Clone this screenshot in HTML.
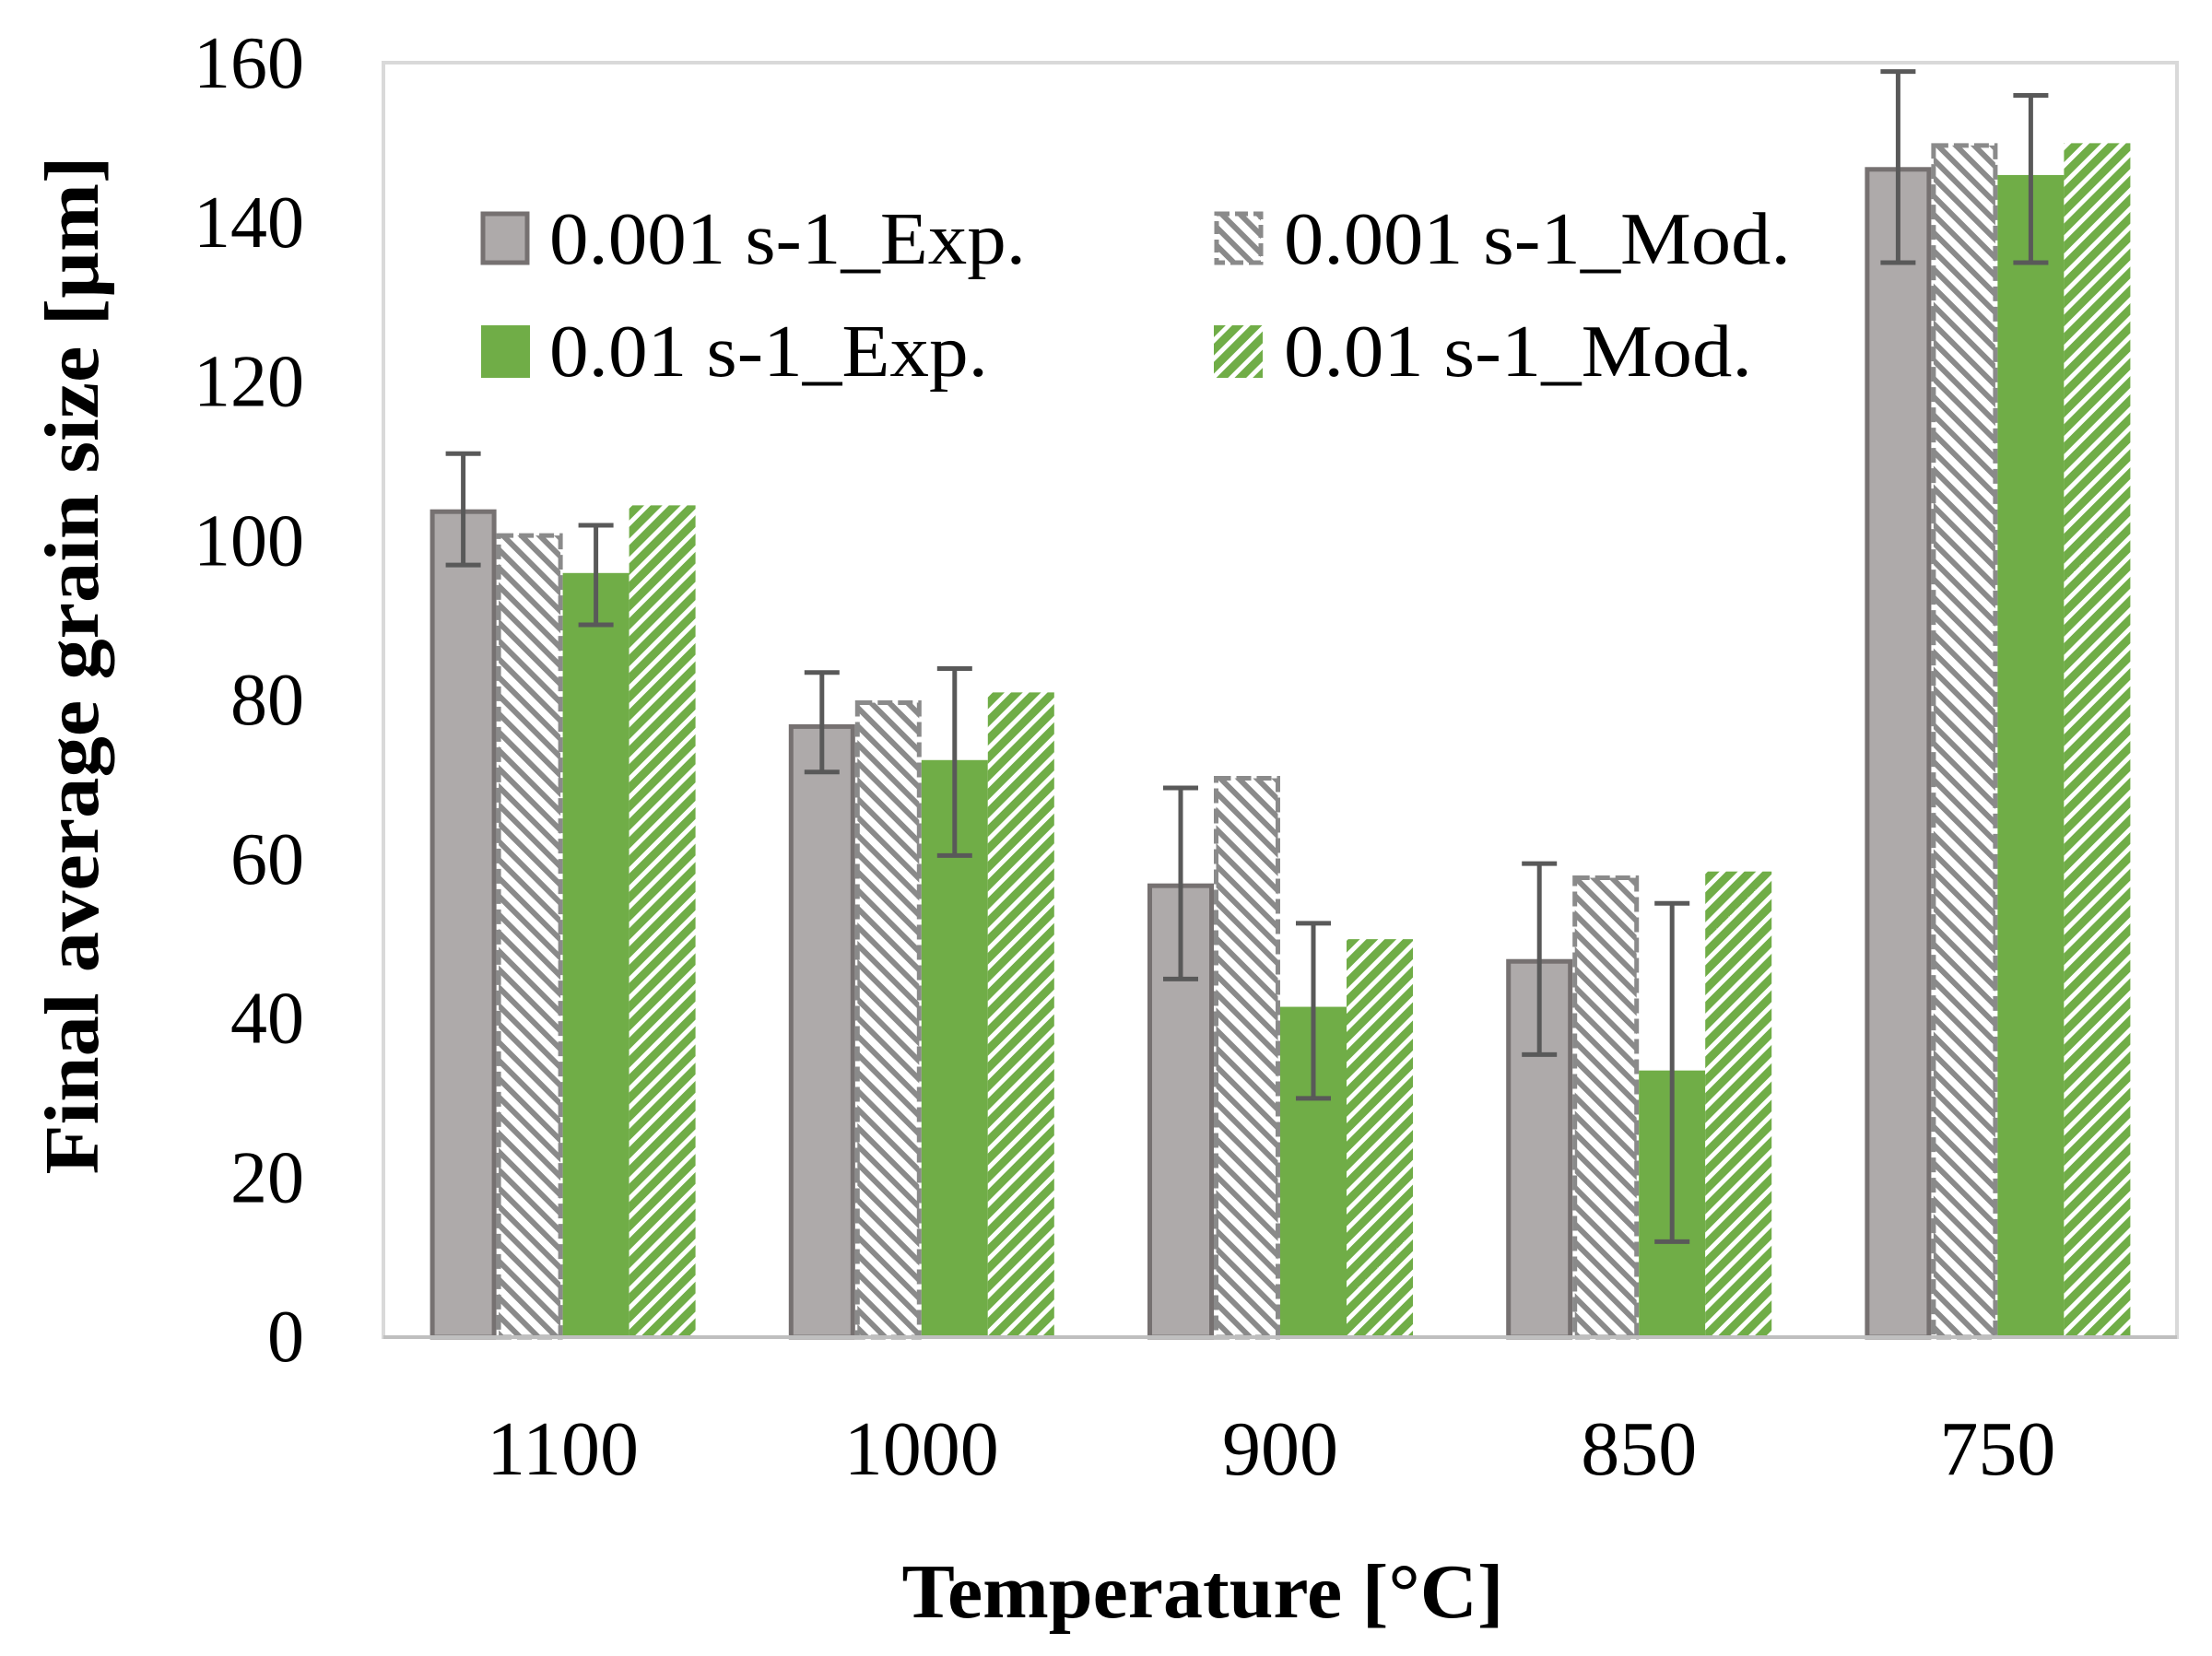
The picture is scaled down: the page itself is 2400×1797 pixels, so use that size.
<!DOCTYPE html>
<html><head><meta charset="utf-8"><style>
html,body{margin:0;padding:0;background:#fff;}
svg{display:block;font-family:"Liberation Serif",serif;}
</style></head><body>
<svg id="chart" width="2400" height="1797" viewBox="0 0 2400 1797">
<defs>
<pattern id="hatchGray" patternUnits="userSpaceOnUse" width="14" height="14" patternTransform="rotate(-45)">
<rect width="14" height="14" fill="#fff"/><rect width="6" height="14" fill="#8a8a8a"/>
</pattern>
<pattern id="hatchGreen" patternUnits="userSpaceOnUse" width="14" height="14" patternTransform="rotate(45)">
<rect width="14" height="14" fill="#70AD47"/><rect width="5" height="14" fill="#fff"/>
</pattern>
</defs>
<rect x="416" y="68" width="1946" height="1383" fill="none" stroke="#d9d9d9" stroke-width="4"/>
<g id="yticks"></g><g id="bars"></g><g id="xlabels"></g>
<text x="1305" y="1755" text-anchor="middle" font-size="84" font-weight="bold" textLength="653" lengthAdjust="spacingAndGlyphs">Temperature [°C]</text>
<text transform="translate(106,722) rotate(-90)" text-anchor="middle" font-size="84" font-weight="bold" textLength="1105" lengthAdjust="spacingAndGlyphs">Final average grain size [µm]</text>
<g>
<rect x="524" y="232" width="48" height="53" fill="#AEAAAA" stroke="#767171" stroke-width="5"/>
<text x="596" y="286" font-size="80" textLength="517" lengthAdjust="spacingAndGlyphs">0.001 s-1_Exp.</text>
<rect x="522" y="353" width="53" height="57" fill="#70AD47"/>
<text x="596" y="408" font-size="80" textLength="476" lengthAdjust="spacingAndGlyphs">0.01 s-1_Exp.</text>
<rect x="1320" y="232" width="48" height="53" fill="url(#hatchGray)" stroke="#8a8a8a" stroke-width="5" stroke-dasharray="14 6"/>
<text x="1393" y="286" font-size="80" textLength="550" lengthAdjust="spacingAndGlyphs">0.001 s-1_Mod.</text>
<rect x="1317" y="353" width="53" height="57" fill="url(#hatchGreen)"/>
<text x="1393" y="408" font-size="80" textLength="508" lengthAdjust="spacingAndGlyphs">0.01 s-1_Mod.</text>
</g>
</svg>
<script>
const categories = ["1100","1000","900","850","750"];
const exp0001 = [104, 77, 57, 47.5, 147];
const exp0001Lo = [97, 71, 45, 35.5, 135];
const exp0001Hi = [111, 83.5, 69, 59.5, 159];
const mod0001 = [101, 80, 70.5, 58, 150];
const exp001 = [96, 72.5, 41.5, 33.5, 146];
const exp001Lo = [89.5, 60.5, 30, 12, 135];
const exp001Hi = [102, 84, 52, 54.5, 156];
const mod001 = [104.5, 81, 50, 58.5, 150];
const yTicks = [0,20,40,60,80,100,120,140,160];

const NS="http://www.w3.org/2000/svg";
const x0=416,x1=2362,yZero=1451,yTop=69,yMax=160;
const y=v=>yZero-(yZero-yTop)*v/yMax;
const band=(x1-x0)/categories.length;
const bw=72;
const cx=i=>x0+band*(i+0.5);
function mk(tag,attrs,parent){const e=document.createElementNS(NS,tag);for(const k in attrs)e.setAttribute(k,attrs[k]);parent.appendChild(e);return e;}
const gt=document.getElementById('yticks');
yTicks.forEach(t=>{const e=mk('text',{x:330,y:y(t)+26,'text-anchor':'end','font-size':80},gt);e.textContent=t;

});
const gb=document.getElementById('bars'),gx=document.getElementById('xlabels');
const series=[
 {v:exp0001,fill:'#AEAAAA',stroke:'#767171',name:'bar-exp-0001',lo:exp0001Lo,hi:exp0001Hi},
 {v:mod0001,fill:'url(#hatchGray)',stroke:'#8a8a8a',dash:'16 6',name:'bar-mod-0001'},
 {v:exp001,fill:'#70AD47',name:'bar-exp-001',lo:exp001Lo,hi:exp001Hi},
 {v:mod001,fill:'url(#hatchGreen)',name:'bar-mod-001'}];
categories.forEach((c,i)=>{
 series.forEach((s,j)=>{
  const bx=cx(i)-2*bw+j*bw, top=y(s.v[i]);
  const a={x:bx,y:top,width:bw,height:yZero-top,fill:s.fill};
  if(s.stroke){a.stroke=s.stroke;a['stroke-width']=5;if(s.dash)a['stroke-dasharray']=s.dash;a.x=bx+2.5;a.width=bw-5;a.y=top+2.5;a.height=yZero-top-2.5;}
  const r=mk('rect',a,gb);
  
  
 });
 series.forEach((s,j)=>{
  if(!s.lo)return;
  const ex=cx(i)-2*bw+j*bw+bw/2, yl=y(s.lo[i]), yh=y(s.hi[i]);
  const g=mk('g',{stroke:'#595959','stroke-width':5},gb);
  
  
  mk('line',{x1:ex,x2:ex,y1:yl,y2:yh},g);
  mk('line',{x1:ex-19,x2:ex+19,y1:yl,y2:yl},g);
  mk('line',{x1:ex-19,x2:ex+19,y1:yh,y2:yh},g);
 });
 const t=mk('text',{x:cx(i),y:1600,'text-anchor':'middle','font-size':84},gx);t.textContent=c;
 
 
});
mk('line',{x1:x0,x2:x1,y1:yZero,y2:yZero,stroke:'#bfbfbf','stroke-width':4},gb);
</script>
</body></html>
